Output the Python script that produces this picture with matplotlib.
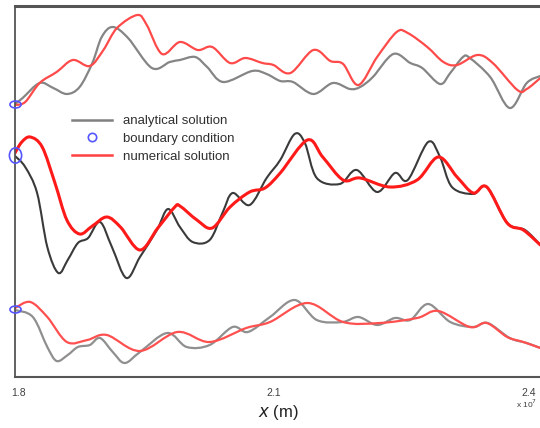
import matplotlib
matplotlib.use("Agg")
import matplotlib.pyplot as plt
import numpy as np
from matplotlib.path import Path
from matplotlib.patches import PathPatch
from matplotlib.lines import Line2D
from matplotlib.transforms import ScaledTranslation

# x positions in units of 1e7 m, y in arbitrary display units (offset per band)
top_ana_x = [1.800,1.809,1.829,1.845,1.861,1.876,1.891,1.902,1.915,1.933,1.961,1.982,1.994,2.012,2.026,2.045,2.079,2.096,2.112,2.127,2.151,2.174,2.194,2.206,2.221,2.245,2.265,2.279,2.300,2.312,2.327,2.335,2.359,2.382,2.402,2.418]
top_ana_y = [273,279,294,289,283,290,314,340,350,339,309,315,317,320,310,295,306,303,296,295,283,294,288,290,300,323,314,309,293,304,320,319,300,269,294,301]
top_num_x = [1.800,1.812,1.829,1.849,1.868,1.888,1.904,1.920,1.944,1.955,1.973,1.994,2.015,2.032,2.053,2.071,2.091,2.104,2.124,2.151,2.171,2.186,2.204,2.226,2.249,2.262,2.285,2.304,2.320,2.344,2.362,2.391,2.402,2.418]
top_num_y = [272,275,294,305,317,311,327,349,362,352,323,335,327,330,314,319,314,312,304,327,316,313,292,320,345,344,330,315,312,322,314,287,288,299]

mid_ana_x = [1.800,1.812,1.826,1.838,1.851,1.862,1.874,1.886,1.900,1.914,1.931,1.947,1.967,1.980,1.994,2.009,2.029,2.044,2.056,2.076,2.096,2.112,2.129,2.141,2.155,2.182,2.202,2.226,2.247,2.262,2.286,2.300,2.314,2.339,2.355,2.379,2.400,2.418]
mid_ana_y = [221,210,184,130,104,117,134,139,155,130,99,120,147,168,150,135,137,164,184,172,199,217,243,234,199,193,207,185,204,197,235,220,190,183,190,154,147,132]
mid_num_x = [1.800,1.808,1.818,1.832,1.847,1.861,1.876,1.891,1.908,1.924,1.947,1.968,1.988,1.994,2.014,2.032,2.053,2.076,2.094,2.112,2.144,2.162,2.186,2.206,2.241,2.273,2.298,2.320,2.339,2.355,2.379,2.398,2.418]
mid_num_y = [224,235,240,230,194,157,143,151,160,150,127,149,170,171,157,149,170,185,189,204,237,220,197,199,190,197,220,200,184,190,154,147,132]

bot_ana_x = [1.800,1.821,1.838,1.849,1.862,1.874,1.888,1.900,1.915,1.929,1.947,1.979,2.002,2.029,2.056,2.074,2.100,2.129,2.155,2.185,2.204,2.226,2.247,2.265,2.286,2.312,2.339,2.356,2.382,2.402,2.418]
bot_ana_y = [67,60,30,16,22,30,32,39,25,14,25,44,30,32,50,45,60,77,57,55,60,52,59,57,73,55,50,54,39,34,29]
bot_num_x = [1.800,1.818,1.838,1.861,1.885,1.908,1.947,1.991,2.029,2.072,2.100,2.144,2.186,2.229,2.273,2.298,2.335,2.355,2.379,2.398,2.418]
bot_num_y = [69,75,60,35,37,42,26,45,35,49,55,74,55,54,59,66,50,54,40,35,29]

bc_x = [1.800, 1.800, 1.800]
bc_y = [273, 222, 68]

xticks = [1.8, 2.1, 2.4]
xtick_labels = ["1.8", "2.1", "2.4"]

plt.rcParams['font.family'] = ['Liberation Sans', 'DejaVu Sans']

fig = plt.figure(figsize=(5.4, 4.28), dpi=100)
ax = fig.add_axes([15/540, 51/428, 525/540, 371/428])


def smooth_path(xs, ys):
    """Cubic Bezier path passing through every given point (Catmull-Rom style tangents)."""
    p = np.column_stack([xs, ys]).astype(float)
    n = len(p)
    verts = [p[0]]
    codes = [Path.MOVETO]
    for i in range(n - 1):
        p0 = p[i - 1] if i > 0 else p[i]
        p1 = p[i]
        p2 = p[i + 1]
        p3 = p[i + 2] if i + 2 < n else p[i + 1]
        c1 = p1 + (p2 - p0) / 6.0
        c2 = p2 - (p3 - p1) / 6.0
        verts += [c1, c2, p2]
        codes += [Path.CURVE4] * 3
    return Path(verts, codes)


def draw(xs, ys, color, lw):
    ax.add_patch(PathPatch(smooth_path(xs, ys), fill=False, edgecolor=color, lw=lw,
                           capstyle='round', joinstyle='round'))


draw(top_ana_x, top_ana_y, '#858585', 1.6)
draw(top_num_x, top_num_y, '#ff4a4a', 1.6)
draw(mid_ana_x, mid_ana_y, '#3a3a3a', 1.5)
draw(mid_num_x, mid_num_y, '#ff1a1a', 2.2)
draw(bot_ana_x, bot_ana_y, '#8f8f8f', 1.6)
draw(bot_num_x, bot_num_y, '#ff5050', 1.6)

circ = Path.unit_circle()
wide = Path(circ.vertices * np.array([1.6, 1.0]), circ.codes)
tall = Path(circ.vertices * np.array([0.8, 1.0]), circ.codes)
ax.plot(bc_x[0], bc_y[0], marker=wide, ms=8, mfc='none', mec='#5555ff', mew=1.2, ls='none', clip_on=False, zorder=5)
ax.plot(bc_x[1], bc_y[1], marker=tall, ms=11, mfc='none', mec='#5555ff', mew=1.2, ls='none', clip_on=False, zorder=5)
ax.plot(bc_x[2], bc_y[2], marker=wide, ms=8, mfc='none', mec='#5555ff', mew=1.2, ls='none', clip_on=False, zorder=5)

ax.set_xlim(1.8, 2.4176)
ax.set_ylim(0, 371)
ax.set_xticks(xticks)
ax.set_xticklabels(xtick_labels)
ax.set_yticks([])
ax.tick_params(axis='x', length=0, pad=8, labelsize=7.5, labelcolor='#404040')
for lab in ax.get_xticklabels():
    lab.set_transform(lab.get_transform() + ScaledTranslation(4/100, 0, fig.dpi_scale_trans))
for s in ['left', 'bottom', 'top']:
    ax.spines[s].set_color('#555555')
ax.spines['left'].set_linewidth(1.3)
ax.spines['bottom'].set_linewidth(1.5)
ax.spines['top'].set_linewidth(2.2)
ax.spines['right'].set_visible(False)

handles = [Line2D([], [], color='#808080', lw=1.8),
           Line2D([], [], marker='o', ls='none', mfc='none', mec='#5555ff', ms=6, mew=1.2),
           Line2D([], [], color='#ff4040', lw=1.8)]
ax.legend(handles, ['analytical solution', 'boundary condition', 'numerical solution'],
          loc='upper left', bbox_to_anchor=(57/525, (377-115)/371), frameon=False,
          fontsize=9.5, handlelength=3.0, handletextpad=0.9, labelspacing=0.42,
          borderaxespad=0, borderpad=0, labelcolor='#303030')

fig.text(278/540, 1 - 412/428, r'$\it{x}$ (m)', ha='center', va='center', fontsize=12, color='#222222')
fig.text(527/540, 1 - 404/428, r'x 10$^7$', ha='center', va='center', fontsize=6, color='#404040')

fig.savefig('out.png', dpi=100)
